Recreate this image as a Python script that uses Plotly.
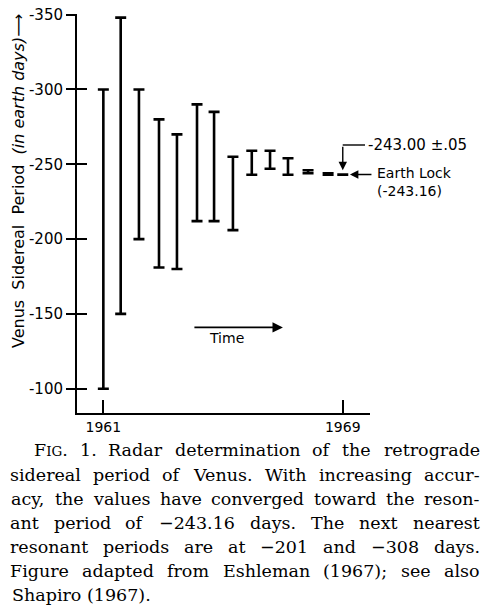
import plotly.graph_objects as go

# radar determinations of the Venus sidereal period (days, retrograde = negative)
years = [1961.0, 1961.58, 1962.19, 1962.86, 1963.46, 1964.13, 1964.7,
         1965.33, 1965.96, 1966.57, 1967.17, 1967.84, 1968.51, 1969.0]
upper = [-300, -348, -300, -280, -270, -290, -285,
         -255, -259, -259, -254, -246, -244, -243.05]
lower = [-100, -150, -200, -181, -180, -212, -212,
         -206, -243, -247, -243, -244, -243, -242.95]

y_ticks = [-350, -300, -250, -200, -150, -100]
y_ticktext = ['-350', '-300', '-250', '-200', '-150', '-100']
x_ticks = [1961, 1969]
x_ticktext = ['1961', '1969']

last_value = '-243.00 ±.05'
earth_lock = -243.16

caption_lines = [
    'FIG. 1.  Radar determination of the retrograde',
    'sidereal period of Venus. With increasing accur-',
    'acy, the values have converged toward the reson-',
    'ant period of −243.16 days. The next nearest',
    'resonant periods are at −201 and −308 days.',
    'Figure adapted from Eshleman (1967); see also',
    'Shapiro (1967).',
]

# page layout in screen pixels (body margin is set to 0 below)
W, H = 494, 612
X0, X1, Y0, Y1 = 77, 370, 14, 413   # plot area on screen
L, T = X0, Y0
R, B = W - X1, H - Y1
PW, PH = X1 - X0, Y1 - Y0


def px(x):
    return (x - X0) / PW


def py(y):
    return (Y1 - y) / PH


mid = [(u + l) / 2 for u, l in zip(upper, lower)]
half = [(l - u) / 2 for u, l in zip(upper, lower)]

fig = go.Figure()
fig.add_trace(go.Scatter(
    x=years, y=mid, mode='markers',
    marker=dict(size=1, color='rgba(0,0,0,0)'),
    error_y=dict(type='data', array=half, symmetric=True,
                 color='black', thickness=2.6, width=5.5),
    showlegend=False, hoverinfo='skip'))
# dummy trace so the second (inside tick) axis is drawn
fig.add_trace(go.Scatter(x=[None], y=[None], yaxis='y2', showlegend=False))

yrange = [-83.8, -350.4]
fig.update_layout(
    width=W, height=H,
    margin=dict(l=L, r=R, t=T, b=B, pad=0),
    paper_bgcolor='white', plot_bgcolor='white',
    font=dict(family='DejaVu Sans', size=15, color='black'),
    xaxis=dict(range=[1960.12, 1969.91], showline=True, linecolor='black', linewidth=2,
               tickvals=x_ticks, ticktext=x_ticktext, ticks='inside', ticklen=13,
               tickwidth=2, tickcolor='black', showgrid=False, zeroline=False,
               tickfont=dict(size=14), automargin=False),
    yaxis=dict(range=yrange, showline=True, linecolor='black', linewidth=2,
               tickvals=y_ticks, ticktext=y_ticktext, ticks='outside', ticklen=9,
               tickwidth=2, tickcolor='black', showgrid=False, zeroline=False,
               tickfont=dict(size=15), automargin=False, ticklabeloverflow='allow'),
    yaxis2=dict(range=yrange, overlaying='y', side='left',
                tickvals=y_ticks, ticks='inside', ticklen=10, tickwidth=2,
                tickcolor='black', showticklabels=False, showline=False,
                showgrid=False, zeroline=False, automargin=False),
)


def label(text, x, y, size=15, anchor='left', **kw):
    fig.add_annotation(text=text, xref='paper', yref='paper', x=px(x), y=py(y),
                       xanchor=anchor, yanchor='middle', showarrow=False,
                       font=dict(size=size), **kw)


def arrow(x, y, ax, ay, size=1.2, width=1.4):
    fig.add_annotation(x=x, y=y, xref='x', yref='y', ax=ax, ay=ay, text='',
                       showarrow=True, arrowhead=2, arrowsize=size, arrowwidth=width,
                       arrowcolor='black')


# axis title
label('Venus  Sidereal  Period  <i>(in earth days)</i>⟶', 18, 181, size=16,
      anchor='center', textangle=-90)

# time arrow
arrow(1967.0, -141, -90, 0, size=1.3, width=1.6)
label('Time', 226, 338, size=14, anchor='center')

# last measurement and earth lock labels
arrow(years[-1], -246, 0, -25)
fig.add_shape(type='line', xref='paper', yref='paper',
              x0=px(342.7), x1=px(365), y0=py(145), y1=py(145),
              line=dict(color='black', width=1.4))
label(last_value, 366, 145)
arrow(1969.24, earth_lock, 23, 0)
label('Earth Lock<br>(-243.16)', 375, 182, size=14, align='left')

# caption, set word by word so the lines come out justified
EM = {'a': .596, 'b': .640, 'c': .560, 'd': .640, 'e': .592, 'f': .370, 'g': .640,
      'h': .644, 'i': .320, 'j': .310, 'k': .606, 'l': .320, 'm': .948, 'n': .644,
      'o': .602, 'p': .640, 'q': .640, 'r': .478, 's': .513, 't': .402, 'u': .644,
      'v': .565, 'w': .856, 'x': .564, 'y': .565, 'z': .527,
      'E': .683, 'F': .653, 'G': .775, 'I': .372, 'R': .710, 'S': .650, 'T': .665,
      'V': .722, 'W': 1.028, '.': .318, ',': .318, '-': .338, '(': .390, ')': .390,
      ';': .337, '−': .838}
CAP = 17.5
SC = 13.5


def word_width(w):
    if w == 'FIG.':
        return (EM['F'] + EM['.']) * CAP + (EM['I'] + EM['G']) * SC
    return sum(EM.get(c, .636) for c in w) * CAP


def word_text(w):
    if w == 'FIG.':
        return "F<span style='font-size:%spx'>IG</span>." % SC
    return w


cap_left = [35, 10, 10, 10, 10, 10, 10]
cap_right = 480
cfont = dict(family='DejaVu Serif', size=CAP, color='black')
for i, line in enumerate(caption_lines):
    yy = py(450.5 + 24.1 * i)
    if i == len(caption_lines) - 1:
        fig.add_annotation(text=line, xref='paper', yref='paper', x=px(cap_left[i]), y=yy,
                           xanchor='left', yanchor='middle', showarrow=False, font=cfont)
        continue
    words = line.split()
    widths = [word_width(w) for w in words]
    gap = (cap_right - cap_left[i] - sum(widths)) / (len(words) - 1)
    xx = cap_left[i]
    for w, wd in zip(words, widths):
        fig.add_annotation(text=word_text(w), xref='paper', yref='paper',
                           x=px(xx + wd / 2), y=yy, xanchor='center', yanchor='middle',
                           showarrow=False, font=cfont)
        xx += wd + gap

fig.write_html('out.html', config={'displayModeBar': False},
               post_script="document.body.style.margin = '0px';")
